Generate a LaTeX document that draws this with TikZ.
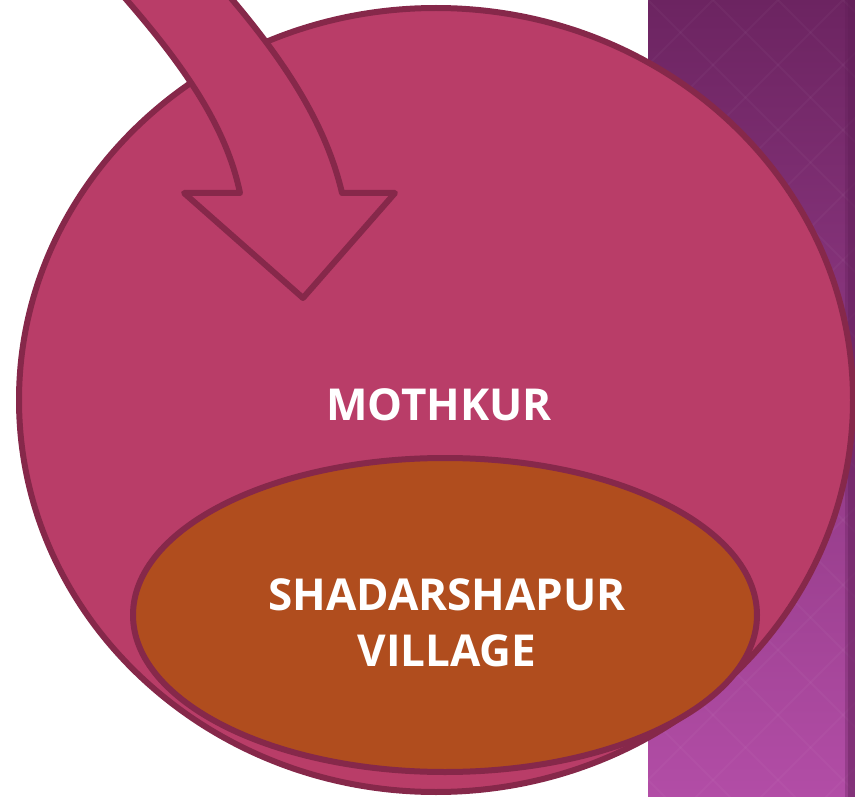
\documentclass[tikz,border=0pt]{standalone}
\usepackage{fontspec}
\newfontfamily\lblfont{Open Sans}
\usetikzlibrary{shapes.geometric}
\definecolor{bigfill}{HTML}{B93D68}
\definecolor{outl}{HTML}{86284A}
\definecolor{innerfill}{HTML}{B04D1E}
\definecolor{bandtop}{HTML}{6C2461}
\definecolor{bandbot}{HTML}{B24DA6}
\definecolor{banddark}{HTML}{5E1D55}
\tikzset{
  shapeline/.style={draw=outl, line width=6pt, line join=round},
  lbl/.style={text=white, font=\lblfont\bfseries\fontsize{44}{56}\selectfont, align=center, inner sep=0pt},
}
\begin{document}
\begin{tikzpicture}[x=1pt,y=-1pt]
\useasboundingbox (0,0) rectangle (855,797);
\begin{scope}
\clip (0,0) rectangle (855,797);
% purple band
\shade[top color=bandtop, bottom color=bandbot] (648,-1) rectangle (856,798);
\begin{scope}
\clip (648,0) rectangle (855,797);
\foreach \k in {-16,...,16} {
  \draw[white, opacity=0.03, line width=2pt] (648+65*\k,0) -- ++(800,800);
  \draw[white, opacity=0.03, line width=2pt] (648+65*\k,0) -- ++(-800,800);
}
\end{scope}
\fill[banddark, opacity=0.55] (848,0) rectangle (856,797);
\fill[banddark, opacity=0.3] (845,0) rectangle (848,797);
% big circle
\node[ellipse, shapeline, fill=bigfill, minimum width=834pt, minimum height=784pt, inner sep=0pt] (mothkur) at (436,400) {};
% curved arrow
\draw[shapeline, fill=bigfill] (118,-10) .. controls (175,55) and (225,120) .. (240,193)
  -- (184,193) -- (303,298) -- (395,193) -- (342,193)
  .. controls (325,120) and (280,55) .. (224,-10) -- cycle;
% inner ellipse
\node[ellipse, shapeline, fill=innerfill, minimum width=624pt, minimum height=314pt, inner sep=0pt] (village) at (445,615) {};
\end{scope}
\node[lbl] (t1) at (439,405) {MOTHKUR};
\node[lbl, anchor=base] (t2) at (447,610) {SHADARSHAPUR};
\node[lbl, anchor=base] (t3) at (447,666) {VILLAGE};
\end{tikzpicture}
\end{document}
